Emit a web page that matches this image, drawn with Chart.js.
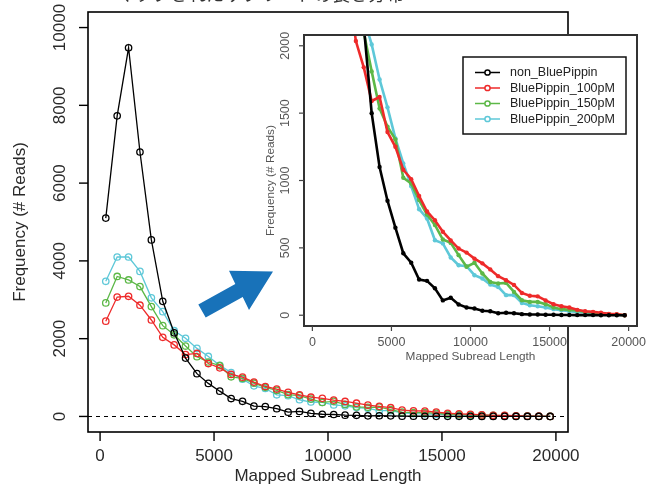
<!DOCTYPE html>
<html>
<head>
<meta charset="utf-8">
<script src="https://cdn.jsdelivr.net/npm/chart.js@4.4.1/dist/chart.umd.min.js"></script>
<style>
  html, body { margin: 0; padding: 0; background: #fff; }
  #wrap { position: relative; width: 655px; height: 486px; overflow: hidden; background: #fff; }
  #wrap canvas { position: absolute; left: 0; top: 0; }
</style>
</head>
<body>
<div id="wrap">
  <canvas id="mainChart" width="655" height="486"></canvas>
  <canvas id="insetChart" width="655" height="486"></canvas>
</div>
<script>
/* ---------- data ---------- */
const binMids = [250, 750, 1250, 1750, 2250, 2750, 3250, 3750, 4250, 4750,
  5250, 5750, 6250, 6750, 7250, 7750, 8250, 8750, 9250, 9750,
  10250, 10750, 11250, 11750, 12250, 12750, 13250, 13750, 14250, 14750,
  15250, 15750, 16250, 16750, 17250, 17750, 18250, 18750, 19250, 19750];

const nonBluePippin = [5100, 7730, 9480, 6800, 4540, 2960, 2150, 1500, 1100, 850,
  650, 460, 390, 265, 255, 200, 110, 130, 80, 57,
  50, 33, 30, 15, 18, 15, 8, 5, 5, 3,
  3, 2, 2, 1, 1, 1, 0, 0, 0, 0];

const bluePippin100 = [2450, 3070, 3090, 2860, 2480, 2035, 1840, 1590, 1620, 1360,
  1250, 1080, 1010, 885, 770, 705, 620, 555, 495, 465,
  420, 385, 340, 290, 260, 225, 165, 145, 140, 110,
  82, 67, 57, 40, 30, 25, 18, 10, 8, 0];

const bluePippin150 = [2920, 3600, 3510, 3340, 2825, 2335, 2100, 1810, 1535, 1400,
  1305, 1020, 978, 855, 748, 670, 562, 537, 446, 360,
  389, 310, 247, 235, 240, 173, 111, 99, 99, 82,
  57, 45, 40, 35, 25, 20, 12, 8, 5, 0];

const bluePippin200 = [3475, 4100, 4100, 3730, 3050, 2695, 2205, 2010, 1750, 1543,
  1313, 1127, 958, 787, 718, 557, 533, 429, 371, 364,
  297, 273, 228, 210, 149, 149, 91, 74, 67, 57,
  45, 37, 30, 25, 20, 15, 10, 6, 3, 0];

const seriesNames = ["non_BluePippin", "BluePippin_100pM", "BluePippin_150pM", "BluePippin_200pM"];
const seriesColors = ["#000000", "#ee2a2a", "#5cb847", "#5ec8d8"];

const mainXTicks = [0, 5000, 10000, 15000, 20000];
const mainYTicks = [0, 2000, 4000, 6000, 8000, 10000];
const insetXTicks = [0, 5000, 10000, 15000, 20000];
const insetYTicks = [0, 500, 1000, 1500, 2000];

const titleText = "マップされたサブリードの長さ分布";
const xTitle = "Mapped Subread Length";
const yTitle = "Frequency (# Reads)";

/* ---------- helpers ---------- */
const FONT = '"Liberation Sans", Arial, Helvetica, sans-serif';
const allSeries = [nonBluePippin, bluePippin100, bluePippin150, bluePippin200];

function toPoints(vals) {
  return binMids.map((x, i) => ({ x: x, y: vals[i] }));
}

function rotText(ctx, text, x, y) {
  ctx.save();
  ctx.translate(x, y);
  ctx.rotate(-Math.PI / 2);
  ctx.fillText(text, 0, 0);
  ctx.restore();
}

/* =============================
   MAIN CHART
============================= */
const mainDecor = {
  id: "mainDecor",
  beforeDatasetsDraw(chart) {
    const { ctx, chartArea: a, scales: { y } } = chart;
    const y0 = Math.round(y.getPixelForValue(0)) + 0.5;
    ctx.save();
    ctx.strokeStyle = "#000";
    ctx.lineWidth = 1;
    ctx.setLineDash([4, 4]);
    ctx.beginPath();
    ctx.moveTo(a.left, y0);
    ctx.lineTo(a.right, y0);
    ctx.stroke();
    ctx.restore();
  },
  afterDraw(chart) {
    const { ctx, chartArea: a, scales: { x, y } } = chart;
    ctx.save();
    ctx.setLineDash([]);
    ctx.strokeStyle = "#000";
    ctx.lineWidth = 1.6;
    ctx.strokeRect(a.left, a.top, a.right - a.left, a.bottom - a.top);

    ctx.lineWidth = 1.4;
    ctx.fillStyle = "#2a2a2a";
    ctx.font = "17px " + FONT;
    ctx.textAlign = "center";
    ctx.textBaseline = "middle";

    mainXTicks.forEach(v => {
      const px = x.getPixelForValue(v);
      ctx.beginPath();
      ctx.moveTo(px, a.bottom);
      ctx.lineTo(px, a.bottom + 9);
      ctx.stroke();
      ctx.fillText(String(v), px, a.bottom + 24);
    });
    mainYTicks.forEach(v => {
      const py = y.getPixelForValue(v);
      ctx.beginPath();
      ctx.moveTo(a.left - 9, py);
      ctx.lineTo(a.left, py);
      ctx.stroke();
      rotText(ctx, String(v), a.left - 28, py);
    });

    ctx.fillText(xTitle, (a.left + a.right) / 2, a.bottom + 44);
    rotText(ctx, yTitle, 20, (a.top + a.bottom) / 2);

    // title, cut off at the top edge like in the source image
    ctx.font = '18px "Noto Sans CJK JP", sans-serif';
    ctx.textBaseline = "alphabetic";
    ctx.fillStyle = "#333";
    ctx.fillText(titleText, 260, 0.5);

    // blue arrow pointing at the inset
    ctx.fillStyle = "#1872b9";
    ctx.beginPath();
    ctx.moveTo(198.3, 304.5);
    ctx.lineTo(235.3, 283.9);
    ctx.lineTo(229, 270.7);
    ctx.lineTo(273, 271.5);
    ctx.lineTo(249, 310);
    ctx.lineTo(242.7, 296.9);
    ctx.lineTo(205.7, 317.5);
    ctx.closePath();
    ctx.fill();
    ctx.restore();
  }
};

new Chart(document.getElementById("mainChart"), {
  type: "line",
  data: {
    datasets: allSeries.map((vals, i) => ({
      label: seriesNames[i],
      data: toPoints(vals),
      borderColor: seriesColors[i],
      borderWidth: 1.3,
      pointRadius: 3.2,
      pointBorderWidth: 1.3,
      pointBorderColor: seriesColors[i],
      pointBackgroundColor: "rgba(0,0,0,0)",
      tension: 0,
      clip: false
    }))
  },
  options: {
    responsive: false,
    animation: false,
    events: [],
    layout: { padding: { left: 88, top: 12, right: 87, bottom: 54 } },
    plugins: { legend: { display: false }, tooltip: { enabled: false } },
    scales: {
      x: { type: "linear", min: -530, max: 20530, display: false },
      y: { type: "linear", min: -400, max: 10400, display: false }
    }
  },
  plugins: [mainDecor]
});

/* =============================
   INSET CHART (zoomed 0-2000)
============================= */
const insetDecor = {
  id: "insetDecor",
  beforeDatasetsDraw(chart) {
    const { ctx, chartArea: a } = chart;
    ctx.save();
    ctx.fillStyle = "#fff";
    ctx.fillRect(a.left, a.top, a.right - a.left, a.bottom - a.top);
    ctx.restore();
  },
  afterDraw(chart) {
    const { ctx, chartArea: a, scales: { x, y } } = chart;
    ctx.save();
    ctx.strokeStyle = "#333";
    ctx.lineWidth = 2;
    ctx.strokeRect(a.left, a.top, a.right - a.left, a.bottom - a.top);

    ctx.lineWidth = 1.2;
    ctx.strokeStyle = "#444";
    ctx.fillStyle = "#555";
    ctx.font = "12.5px " + FONT;
    ctx.textAlign = "center";
    ctx.textBaseline = "middle";
    insetXTicks.forEach(v => {
      const px = x.getPixelForValue(v);
      ctx.beginPath();
      ctx.moveTo(px, a.bottom);
      ctx.lineTo(px, a.bottom + 5);
      ctx.stroke();
      ctx.fillText(String(v), px, a.bottom + 17);
    });
    insetYTicks.forEach(v => {
      const py = y.getPixelForValue(v);
      ctx.beginPath();
      ctx.moveTo(a.left - 5, py);
      ctx.lineTo(a.left, py);
      ctx.stroke();
      rotText(ctx, String(v), a.left - 18, py);
    });
    ctx.font = "11.8px " + FONT;
    ctx.fillText(xTitle, (a.left + a.right) / 2, a.bottom + 31);
    rotText(ctx, yTitle, a.left - 33, (a.top + a.bottom) / 2);

    // legend
    const lx = a.right - 174, ly = a.top + 22, lw = 163, lh = 77;
    ctx.fillStyle = "#fff";
    ctx.fillRect(lx, ly, lw, lh);
    ctx.strokeStyle = "#111";
    ctx.lineWidth = 1.5;
    ctx.strokeRect(lx, ly, lw, lh);
    ctx.font = "12.5px " + FONT;
    ctx.textAlign = "left";
    chart.data.datasets.forEach((ds, i) => {
      const ry = ly + 15.5 + i * 15.5;
      ctx.strokeStyle = ds.borderColor;
      ctx.lineWidth = 1.5;
      ctx.beginPath();
      ctx.moveTo(lx + 12, ry);
      ctx.lineTo(lx + 37, ry);
      ctx.stroke();
      ctx.fillStyle = "#fff";
      ctx.beginPath();
      ctx.arc(lx + 24.5, ry, 2.6, 0, Math.PI * 2);
      ctx.fill();
      ctx.stroke();
      ctx.fillStyle = "#222";
      ctx.fillText(ds.label, lx + 47, ry + 0.5);
    });
    ctx.restore();
  }
};

new Chart(document.getElementById("insetChart"), {
  type: "line",
  data: {
    datasets: allSeries.map((vals, i) => ({
      label: seriesNames[i],
      data: toPoints(vals),
      borderColor: seriesColors[i],
      borderWidth: 2.6,
      pointRadius: 2.2,
      pointBorderWidth: 0,
      pointBackgroundColor: seriesColors[i],
      tension: 0,
      clip: 0
    }))
  },
  options: {
    responsive: false,
    animation: false,
    events: [],
    layout: { padding: { left: 304, top: 35, right: 18, bottom: 160 } },
    plugins: { legend: { display: false }, tooltip: { enabled: false } },
    scales: {
      x: { type: "linear", min: -530, max: 20530, display: false },
      y: { type: "linear", min: -80, max: 2080, display: false }
    }
  },
  plugins: [insetDecor]
});
</script>
</body>
</html>
